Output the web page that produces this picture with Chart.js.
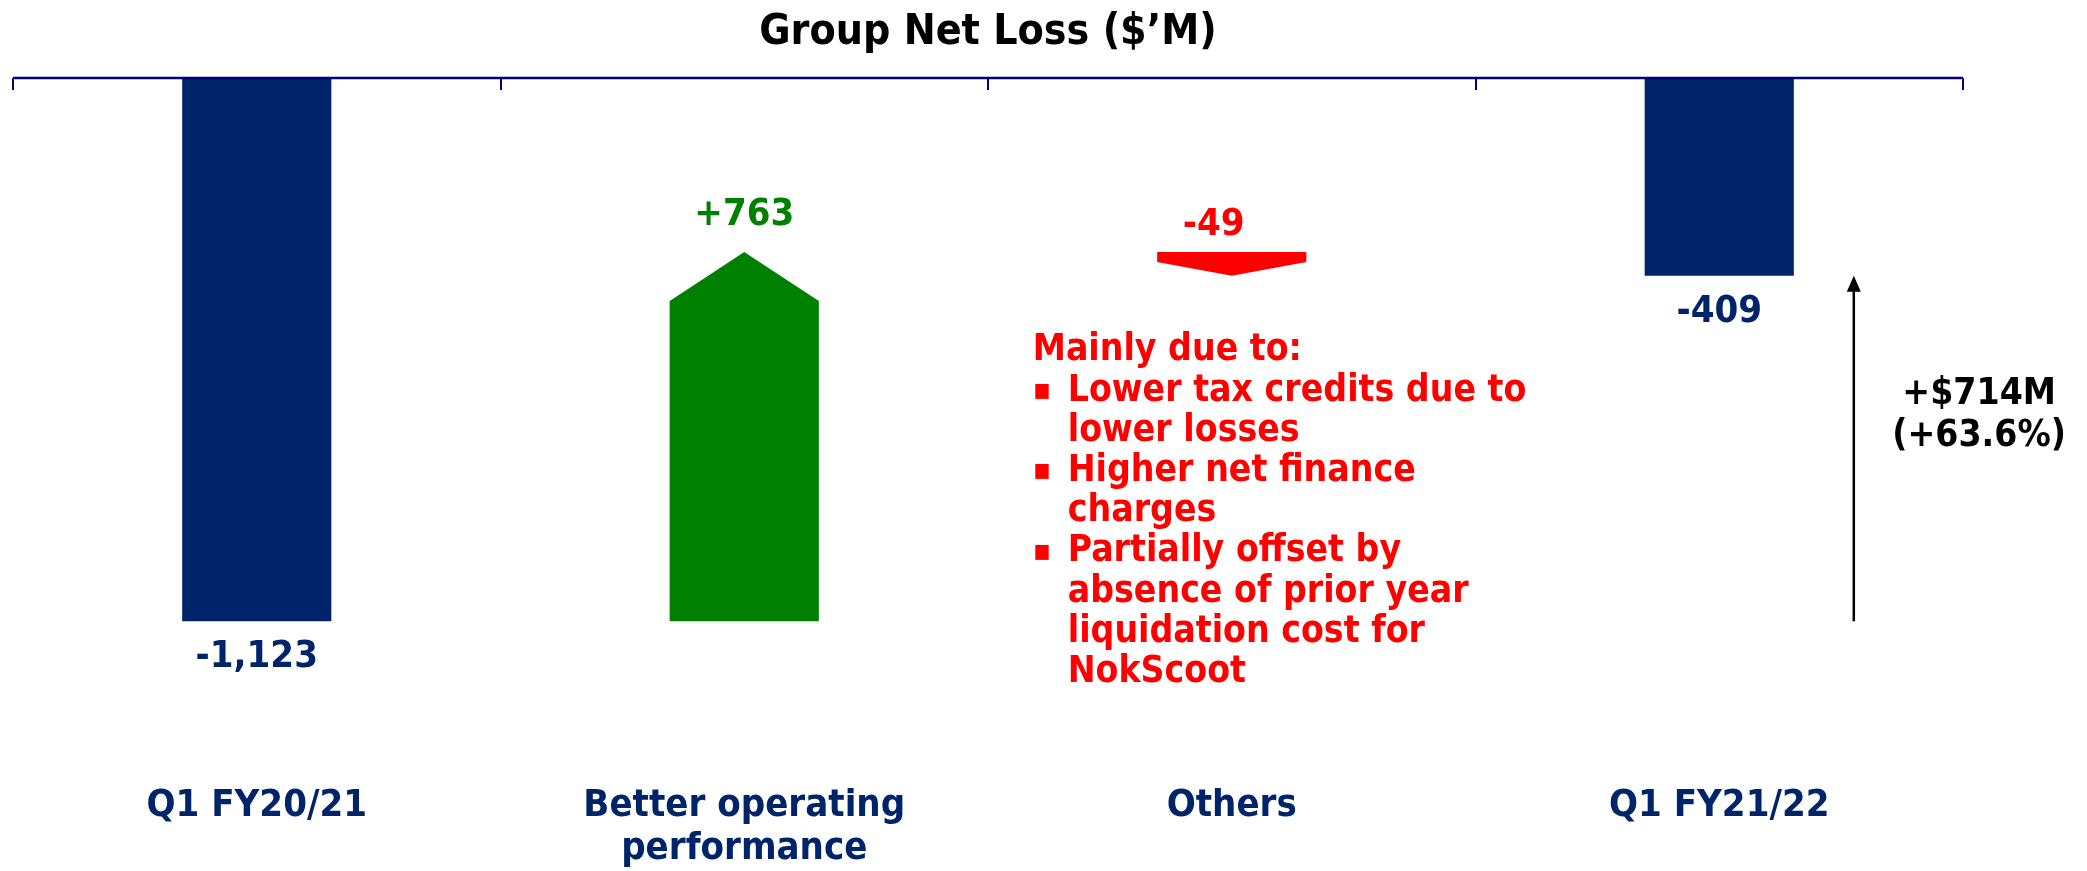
<!DOCTYPE html>
<html>
<head>
<meta charset="utf-8">
<title>Group Net Loss</title>
<script src="https://cdn.jsdelivr.net/npm/chart.js@4.4.1/dist/chart.umd.min.js"></script>
<style>
  html, body { margin: 0; padding: 0; background: #fff; }
  #wrap { width: 2087px; height: 871px; position: relative; }
</style>
</head>
<body>
<div id="wrap"><canvas id="grafico"></canvas></div>
<script>
const categorias = [["Q1 FY20/21"], ["Better operating", "performance"], ["Others"], ["Q1 FY21/22"]];
const valores = [-1123, 763, -49, -409];
const tipos = ["total", "delta", "delta", "total"];
const notaTitulo = "Mainly due to:";
const notaItens = [
  ["Lower tax credits due to", "lower losses"],
  ["Higher net finance", "charges"],
  ["Partially offset by", "absence of prior year", "liquidation cost for", "NokScoot"]
];

const azul = "#002469";
const verde = "#008000";
const vermelho = "#ff0000";
const fonte = "'DejaVu Sans Condensed', 'DejaVu Sans', sans-serif";

// waterfall: totals start at 0, deltas float from the running total
let acumulado = 0;
const faixas = valores.map((v, i) => {
  if (tipos[i] === "total") { acumulado = v; return [0, v]; }
  const ini = acumulado;
  acumulado += v;
  return [ini, acumulado];
});

const rotulo = (v, i) => tipos[i] === "total" ? v.toLocaleString("en-US") : (v > 0 ? "+" : "") + v;

const desenho = {
  id: "desenho",
  afterDatasetsDraw(chart) {
    const { ctx, chartArea, scales: { x, y } } = chart;
    const barras = chart.getDatasetMeta(0).data;
    ctx.save();

    // arrow shaped bars for the changes
    barras.forEach((b, i) => {
      if (tipos[i] !== "delta") return;
      const meia = b.width / 2;
      const topo = Math.min(b.y, b.base), fundo = Math.max(b.y, b.base);
      const cabeca = Math.min(49, (fundo - topo) * 0.58);
      ctx.fillStyle = valores[i] > 0 ? verde : vermelho;
      ctx.beginPath();
      if (valores[i] > 0) {
        ctx.moveTo(b.x - meia, fundo);
        ctx.lineTo(b.x - meia, topo + cabeca);
        ctx.lineTo(b.x, topo);
        ctx.lineTo(b.x + meia, topo + cabeca);
        ctx.lineTo(b.x + meia, fundo);
      } else {
        ctx.moveTo(b.x - meia, topo);
        ctx.lineTo(b.x + meia, topo);
        ctx.lineTo(b.x + meia, fundo - cabeca);
        ctx.lineTo(b.x, fundo);
        ctx.lineTo(b.x - meia, fundo - cabeca);
      }
      ctx.closePath();
      ctx.fill();
    });

    // axis line at zero with category ticks
    const y0 = y.getPixelForValue(0);
    ctx.strokeStyle = "#000080";
    ctx.lineWidth = 2.5;
    ctx.beginPath();
    ctx.moveTo(chartArea.left, y0);
    ctx.lineTo(chartArea.right, y0);
    ctx.stroke();
    ctx.lineWidth = 2;
    for (let i = 0; i <= categorias.length; i++) {
      const px = Math.round(x.getPixelForValue(i - 0.5));
      ctx.beginPath();
      ctx.moveTo(px, y0);
      ctx.lineTo(px, y0 + 12);
      ctx.stroke();
    }

    // value labels
    ctx.textAlign = "center";
    ctx.textBaseline = "middle";
    ctx.font = "bold 38px " + fonte;
    barras.forEach((b, i) => {
      const topo = Math.min(b.y, b.base), fundo = Math.max(b.y, b.base);
      if (tipos[i] === "total") {
        ctx.fillStyle = azul;
        ctx.fillText(rotulo(valores[i], i), b.x, fundo + 36);
      } else if (valores[i] > 0) {
        ctx.fillStyle = verde;
        ctx.fillText(rotulo(valores[i], i), b.x, topo - 37);
      } else {
        ctx.fillStyle = vermelho;
        ctx.fillText(rotulo(valores[i], i), b.x - 18, topo - 27);
      }
    });

    // note under the "Others" arrow
    const bo = barras[2];
    const nx = bo.x - 199;
    let ny = Math.max(bo.y, bo.base) + 75;
    const passo = 40.2;
    ctx.textAlign = "left";
    ctx.fillStyle = vermelho;
    ctx.font = "bold 37px " + fonte;
    ctx.fillText(notaTitulo, nx, ny);
    notaItens.forEach(item => {
      item.forEach((linha, k) => {
        ny += passo;
        if (k === 0) {
          ctx.font = "bold 30px " + fonte;
          ctx.fillText("\u25AA", nx, ny);
          ctx.font = "bold 37px " + fonte;
        }
        ctx.fillText(linha, nx + 35, ny);
      });
    });

    // overall change arrow
    const xs = x.getPixelForValue(3.276);
    const yTopo = y.getPixelForValue(valores[3]);
    const yBase = y.getPixelForValue(valores[0]);
    ctx.strokeStyle = "#000";
    ctx.fillStyle = "#000";
    ctx.lineWidth = 2.5;
    ctx.beginPath();
    ctx.moveTo(xs, yBase);
    ctx.lineTo(xs, yTopo + 12);
    ctx.stroke();
    ctx.beginPath();
    ctx.moveTo(xs, yTopo);
    ctx.lineTo(xs - 7, yTopo + 16);
    ctx.lineTo(xs + 7, yTopo + 16);
    ctx.closePath();
    ctx.fill();

    const dif = valores[3] - valores[0];
    const pct = (dif / Math.abs(valores[0]) * 100).toFixed(1);
    const xt = x.getPixelForValue(3.533);
    ctx.textAlign = "center";
    ctx.font = "bold 37px " + fonte;
    ctx.fillText("+$" + dif + "M", xt, yTopo + 119);
    ctx.fillText("(+" + pct + "%)", xt, yTopo + 161);

    ctx.restore();
  }
};

Chart.defaults.font.family = fonte;

new Chart(document.getElementById("grafico"), {
  type: "bar",
  data: {
    labels: categorias,
    datasets: [{
      data: faixas,
      backgroundColor: tipos.map(t => t === "total" ? azul : "rgba(0,0,0,0)"),
      borderWidth: 0,
      categoryPercentage: 1,
      barPercentage: 0.306
    }]
  },
  options: {
    responsive: true,
    maintainAspectRatio: false,
    animation: false,
    events: [],
    layout: { padding: { left: 13, right: 124, top: 0, bottom: 0 } },
    plugins: {
      legend: { display: false },
      tooltip: { enabled: false },
      title: {
        display: true,
        text: "Group Net Loss ($\u2019M)",
        color: "#000",
        font: { size: 42.5, weight: "bold", lineHeight: 1.2 },
        padding: { top: 7, bottom: 20 }
      }
    },
    scales: {
      x: {
        grid: { display: false, drawTicks: false },
        border: { display: false },
        ticks: {
          color: azul,
          font: { size: 38, weight: "bold", lineHeight: 1.13 },
          padding: 0,
          maxRotation: 0,
          autoSkip: false
        }
      },
      y: { display: false, min: -1462, max: 0 }
    }
  },
  plugins: [desenho]
});
</script>
</body>
</html>
